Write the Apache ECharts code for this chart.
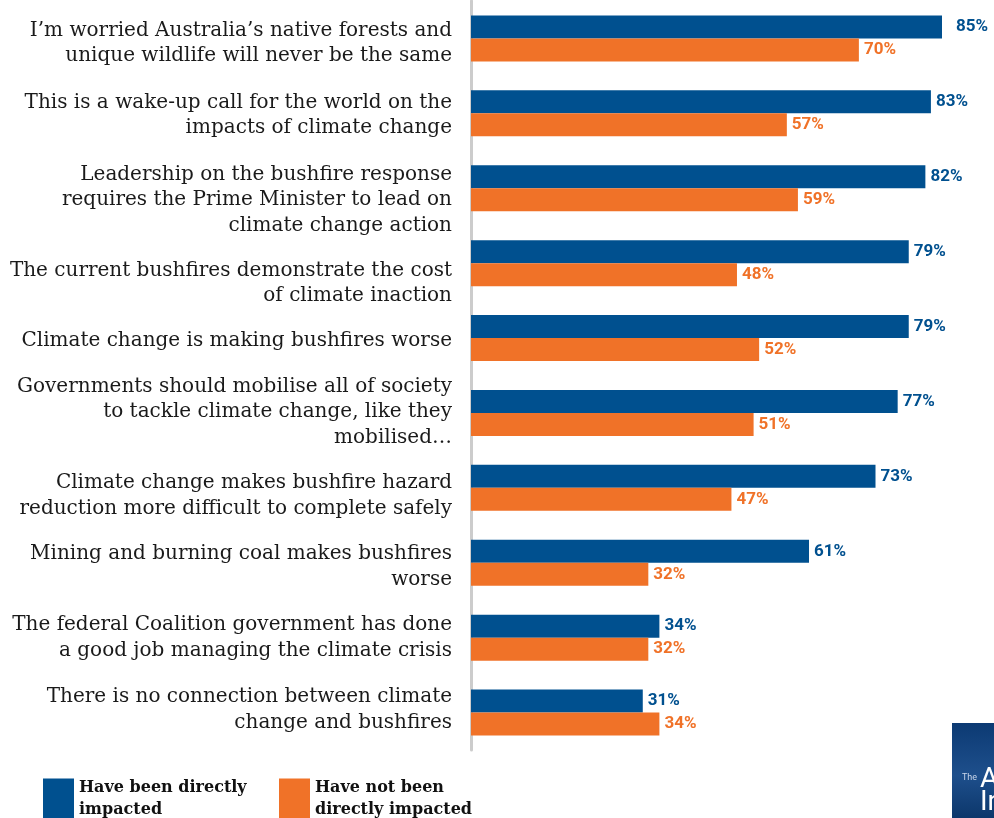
<!DOCTYPE html>
<html>
<head>
<meta charset="utf-8">
<script src="https://cdn.jsdelivr.net/npm/echarts@6/dist/echarts.min.js"></script>
<style>html,body{margin:0;padding:0;background:#fff}#c{width:994px;height:818px}</style>
</head>
<body>
<div id="c"></div>
<script>
const categories = [
  "I’m worried Australia’s native forests and\nunique wildlife will never be the same",
  "This is a wake-up call for the world on the\nimpacts of climate change",
  "Leadership on the bushfire response\nrequires the Prime Minister to lead on\nclimate change action",
  "The current bushfires demonstrate the cost\nof climate inaction",
  "Climate change is making bushfires worse",
  "Governments should mobilise all of society\nto tackle climate change, like they\nmobilised…",
  "Climate change makes bushfire hazard\nreduction more difficult to complete safely",
  "Mining and burning coal makes bushfires\nworse",
  "The federal Coalition government has done\na good job managing the climate crisis",
  "There is no connection between climate\nchange and bushfires"
];
const seriesNames = ["Have been directly\nimpacted", "Have not been\ndirectly impacted"];
const impacted = [85, 83, 82, 79, 79, 77, 73, 61, 34, 31];
const notImpacted = [70, 57, 59, 48, 52, 51, 47, 32, 32, 34];

// vertical nudges of the category labels (px) as they sit in the original layout
const labelShift = [5, 2, 12, 20, 3, -1, 8, 4, 0, -3];

const BLUE = '#00508f', ORANGE = '#f07228';
const chart = echarts.init(document.getElementById('c'));
const legendText = {fontFamily: 'DejaVu Serif', fontWeight: 'bold', fontSize: 16, color: '#111', lineHeight: 22};

const rich = {};
labelShift.forEach((s, i) => {
  const h = Math.max(1, 2 * Math.abs(s));
  rich['sp' + i] = {height: h, lineHeight: h, fontSize: 1};
});
const catFormatter = (value, index) => {
  const s = labelShift[index];
  if (!s) return value;
  return s > 0 ? '{sp' + index + '| }\n' + value : value + '\n{sp' + index + '| }';
};

const valLabel = (color) => ({show: true, position: 'right', distance: 5, formatter: '{c}%', color: color,
  fontFamily: 'Roboto', fontWeight: 'bold', fontSize: 17});
const blueData = impacted.map((v, i) => i === 0 ? {value: v, label: {distance: 14}} : v);

chart.setOption({
  animation: false,
  grid: {left: 471, top: 1, width: 471, height: 749, containLabel: false},
  xAxis: {type: 'value', min: 0, max: 85, show: false},
  yAxis: {
    type: 'category', data: categories, inverse: true,
    axisLine: {show: true, lineStyle: {color: '#cccccc', width: 3}},
    axisTick: {show: false},
    axisLabel: {margin: 19, fontFamily: 'DejaVu Serif', fontSize: 20, color: '#1a1a1a', lineHeight: 25.5, align: 'right',
      formatter: catFormatter, rich: rich}
  },
  legend: [
    {left: 43, top: 777, padding: 0, itemWidth: 31, itemHeight: 41, itemGap: 6, icon: 'rect',
     data: [seriesNames[0]], textStyle: legendText, selectedMode: false},
    {left: 279, top: 777, padding: 0, itemWidth: 31, itemHeight: 41, itemGap: 6, icon: 'rect',
     data: [seriesNames[1]], textStyle: legendText, selectedMode: false}
  ],
  series: [
    {name: seriesNames[0], type: 'bar', data: blueData, barWidth: 23, barGap: '0%', itemStyle: {color: BLUE},
     label: valLabel(BLUE)},
    {name: seriesNames[1], type: 'bar', data: notImpacted, barWidth: 23, barGap: '0%', itemStyle: {color: ORANGE},
     label: valLabel(ORANGE)}
  ],
  graphic: [
    {type: 'rect', left: 952, top: 723, shape: {width: 42, height: 95},
     style: {fill: new echarts.graphic.LinearGradient(0, 0, 0, 1, [{offset: 0, color: '#0c3a73'}, {offset: 0.55, color: '#1e4f8c'}, {offset: 1, color: '#0c376b'}])}},
    {type: 'text', left: 962, top: 773, style: {text: 'The', fill: '#c9d6ea', font: '9px Roboto'}},
    {type: 'text', left: 980, top: 766, style: {text: 'A', fill: '#ffffff', font: '28px Roboto'}},
    {type: 'text', left: 980, top: 789, style: {text: 'In', fill: '#ffffff', font: '28px Roboto'}}
  ]
});
</script>
</body>
</html>
